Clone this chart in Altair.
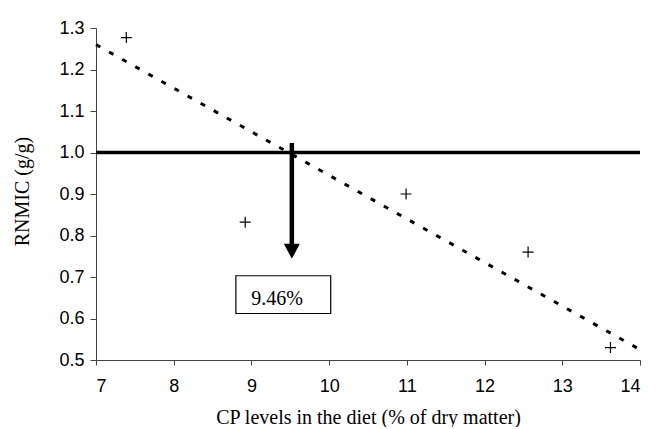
import altair as alt
import pandas as pd

# Observed data (CP level vs RNMIC)
cp_level = [7.39, 8.92, 10.99, 12.56, 13.62]
rnmic = [1.277, 0.832, 0.900, 0.760, 0.530]

# Trend line end points
trend_x = [7.0, 14.0]
trend_y = [1.26, 0.525]

# Reference line y = 1.0
ref_x = [7.0]
ref_x2 = [14.0]
ref_y = [1.0]

# Arrow annotation (break point at 9.46 %)
arrow_x = [9.52]
arrow_top = [1.023]
arrow_base = [0.772]
arrow_head_y = [0.762]

# Label box
box_x = [8.80]
box_x2 = [10.02]
box_y = [0.703]
box_y2 = [0.612]
label_text = ["9.46%"]
label_x = [9.33]
label_y = [0.632]

x_ticks = [7, 8, 9, 10, 11, 12, 13, 14]
y_ticks = [0.5, 0.6, 0.7, 0.8, 0.9, 1.0, 1.1, 1.2, 1.3]

pts = pd.DataFrame({"x": cp_level, "y": rnmic})
trend = pd.DataFrame({"x": trend_x, "y": trend_y})
ref = pd.DataFrame({"x": ref_x, "x2": ref_x2, "y": ref_y})
arrow = pd.DataFrame({"x": arrow_x, "y": arrow_top, "y2": arrow_base, "yh": arrow_head_y})
box = pd.DataFrame({"x": box_x, "x2": box_x2, "y": box_y, "y2": box_y2})
lab = pd.DataFrame({"x": label_x, "y": label_y, "t": label_text})

SERIF = "Liberation Serif, Times New Roman, serif"
SANS = "Liberation Sans, Arial, sans-serif"

xs = alt.Scale(domain=[7, 14], nice=False, zero=False)
ys = alt.Scale(domain=[0.5, 1.3], nice=False, zero=False)

xaxis = alt.Axis(
    title="CP levels in the diet (% of dry matter)",
    values=x_ticks, format="d", grid=False,
    tickSize=5, labelPadding=12,
    titleX=272, titleY=63, titleBaseline="alphabetic", titleAlign="center",
)
yaxis = alt.Axis(
    title="RNMIC (g/g)",
    values=y_ticks, format=".1f", grid=False,
    tickSize=6, labelPadding=6,
    titleX=-68, titleY=163, titleBaseline="alphabetic", titleAlign="center", titleAngle=270,
)

X = alt.X("x:Q", scale=xs, axis=xaxis)
Y = alt.Y("y:Q", scale=ys, axis=yaxis)

plus_path = "M-1,0L1,0M0,-1L0,1"
tri_path = "M-1,-0.95L1,-0.95L0,0.95Z"

points = alt.Chart(pts).mark_point(
    shape=plus_path, size=121, filled=False, stroke="black", strokeWidth=1.2, opacity=1
).encode(x=X, y=Y)

trend_line = alt.Chart(trend).mark_line(
    color="black", strokeWidth=3, strokeDash=[5, 10]
).encode(x=X, y=Y)

ref_line = alt.Chart(ref).mark_rule(color="black", strokeWidth=3.5).encode(
    x=X, x2="x2:Q", y=Y
)

shaft = alt.Chart(arrow).mark_rule(color="black", strokeWidth=4.5).encode(
    x=X, y=Y, y2="y2:Q"
)

head = alt.Chart(arrow).mark_point(
    shape=tri_path, size=256, filled=True, color="black", opacity=1
).encode(x=X, y=alt.Y("yh:Q", scale=ys, axis=yaxis))

rect = alt.Chart(box).mark_rect(
    fill="white", stroke="black", strokeWidth=1.2
).encode(x=X, x2="x2:Q", y=Y, y2="y2:Q")

text = alt.Chart(lab).mark_text(
    font=SERIF, fontSize=20, align="center", baseline="alphabetic", color="black"
).encode(x=X, y=Y, text="t:N")

chart = alt.layer(ref_line, trend_line, shaft, head, rect, text, points).properties(
    width=544, height=332,
    autosize=alt.AutoSizeParams(type="none"),
    padding={"left": 88, "top": 20, "right": 8, "bottom": 67},
).configure_view(stroke=None).configure_axis(
    labelFont=SANS, labelFontSize=18, labelColor="black",
    titleFont=SERIF, titleFontSize=20, titleFontWeight="normal", titleColor="black",
    domainColor="#444", tickColor="#444", domainWidth=1, tickWidth=1,
)

chart.save("out.html", embed_options={"renderer": "svg", "actions": False})
